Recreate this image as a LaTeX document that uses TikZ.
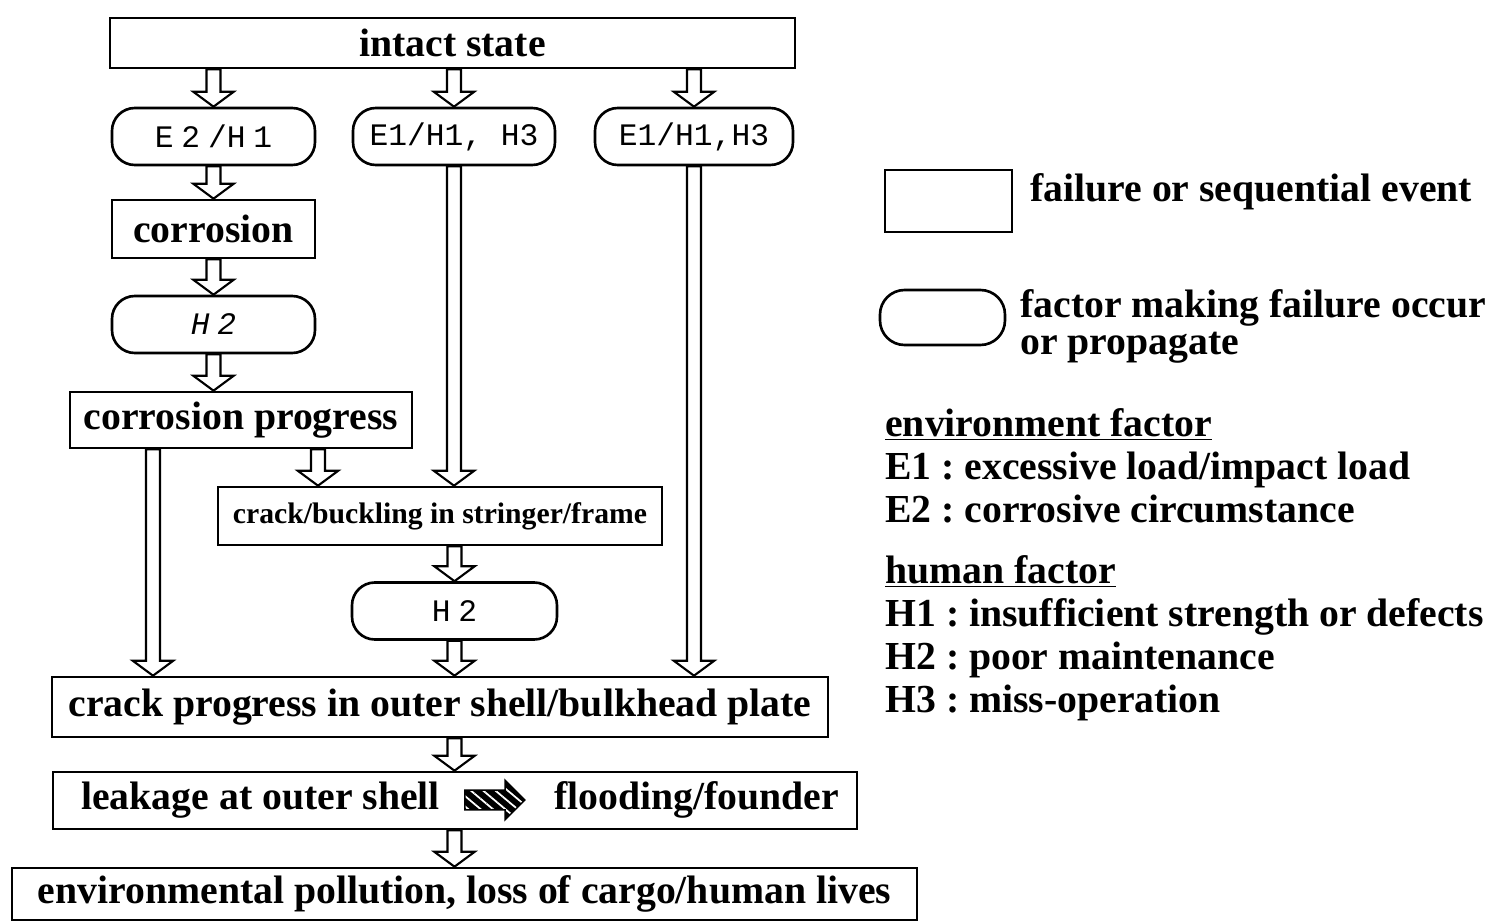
\documentclass[tikz,border=0pt]{standalone}
\usepackage{fontspec}
\setmainfont{Liberation Serif}
\newfontfamily\factorfont{Liberation Mono}
\usepackage{tikz}
\usetikzlibrary{calc,positioning,shapes.arrows,patterns.meta}
\frenchspacing

\tikzset{
  event/.style={draw, line width=1.5pt, fill=white, inner sep=0pt, font=\bfseries\fontsize{22.6}{26}\selectfont},
  factor/.style={draw, line width=1.5pt, fill=white, rounded corners=13pt, inner sep=0pt, minimum height=1.14cm, font=\factorfont\fontsize{17.8}{20}\selectfont},
  legtext/.style={align=left, inner sep=0pt, font=\bfseries\fontsize{22.6}{24.5}\selectfont},
  flow/.style={draw, line width=1.2pt, fill=white, to path={
    let \p1=(\tikztostart), \p2=(\tikztotarget) in
    ({\x1-4pt},\y1) -- ({\x1-4pt},{\y2+8.5pt}) -- ({\x1-11.5pt},{\y2+8.5pt}) -- (\x1,\y2)
    -- ({\x1+11.5pt},{\y2+8.5pt}) -- ({\x1+4pt},{\y2+8.5pt}) -- ({\x1+4pt},\y1) -- cycle}}
}

\begin{document}
\begin{tikzpicture}
\useasboundingbox (0,0) rectangle (29.84,-18.44);

% failure path
\node[event, minimum width=13.7cm, minimum height=1.0cm] (intact) at (9.05,-0.86) {intact state};
\node[factor, minimum width=4.06cm] (eh1) at (4.27,-2.73) {E\hspace{0.25em}2\hspace{0.25em}/H\hspace{0.25em}1};
\node[factor, minimum width=4.04cm] (ehm) at (9.08,-2.73) {E1/H1, H3};
\node[factor, minimum width=3.96cm] (ehr) at (13.88,-2.73) {E1/H1,H3};
\node[event, minimum width=4.06cm, minimum height=1.16cm] (corr) at (4.27,-4.58) {corrosion};
\node[factor, minimum width=4.06cm] (h2a) at (4.27,-6.49) {\itshape H\hspace{0.25em}2};
\node[event, minimum width=6.84cm, minimum height=1.12cm] (prog) at (4.82,-8.40) {corrosion progress};
\node[event, minimum width=8.88cm, minimum height=1.16cm, font=\bfseries\fontsize{16.9}{19}\selectfont] (buck) at (8.80,-10.32) {crack/buckling in stringer/frame};
\node[factor, minimum width=4.10cm] (h2b) at (9.09,-12.22) {H\hspace{0.25em}2};
\node[event, minimum width=15.52cm, minimum height=1.2cm] (crackp) at (8.80,-14.14) {crack progress in outer shell/bulkhead plate};
\node[event, minimum width=16.08cm, minimum height=1.14cm] (leak) at (9.10,-16.01) {};
\node[event, draw=none, fill=none, anchor=west] (leakl) at (1.60,-16.0) {leakage at outer shell};
\node[single arrow, draw, line width=0.8pt, preaction={fill=black}, pattern={Lines[angle=-40, distance=4.5pt, line width=1pt]}, pattern color=white,
      minimum height=1.2cm, inner xsep=0pt, inner ysep=0.18cm, single arrow head extend=0.2cm] (leakarr) at (9.8,-16.0) {};
\node[event, draw=none, fill=none, anchor=west] (leakr) at (11.06,-16.0) {flooding/founder};
\node[event, minimum width=18.1cm, minimum height=1.04cm] (env) at (9.29,-17.88) {environmental pollution, loss of cargo/human lives};

\coordinate (pl) at ($(prog.south)+(-1.76,0)$);
\coordinate (pr) at ($(prog.south)+(1.54,0)$);

\draw[flow] (intact.south -| eh1.north) to (eh1.north);
\draw[flow] (intact.south -| ehm.north) to (ehm.north);
\draw[flow] (intact.south -| ehr.north) to (ehr.north);
\draw[flow] (eh1.south) to (corr.north);
\draw[flow] (corr.south) to (h2a.north);
\draw[flow] (h2a.south -| corr.south) to (prog.north -| corr.south);
\draw[flow] (pl) to (pl |- crackp.north);
\draw[flow] (pr) to (pr |- buck.north);
\draw[flow] (ehm.south) to (ehm.south |- buck.north);
\draw[flow] (buck.south -| h2b.north) to (h2b.north);
\draw[flow] (h2b.south) to (h2b.south |- crackp.north);
\draw[flow] (ehr.south) to (ehr.south |- crackp.north);
\draw[flow] (crackp.south -| h2b.south) to (leak.north -| h2b.south);
\draw[flow] (leak.south -| h2b.south) to (env.north -| h2b.south);

% legend
\node[draw, line width=1.5pt, minimum width=2.54cm, minimum height=1.24cm] (legevent) at (18.97,-4.02) {};
\node[legtext, anchor=west] (legeventt) at (20.6,-3.84) {failure or sequential event};
\node[draw, line width=1.5pt, rounded corners=14pt, minimum width=2.5cm, minimum height=1.1cm] (legfactor) at (18.85,-6.35) {};
\node[legtext, anchor=north west, font=\bfseries\fontsize{22.6}{21}\selectfont] (legfactort) at (20.4,-5.78) {factor making failure occur\\or propagate};
\node[legtext, anchor=north west] (envf) at (17.7,-8.16) {\underline{environment factor}\\E1 : excessive load/impact load\\E2 : corrosive circumstance};
\node[legtext, anchor=north west] (humf) at (17.7,-11.1) {\underline{human factor}\\H1 : insufficient strength or defects\\H2 : poor maintenance\\H3 : miss-operation};
\end{tikzpicture}
\end{document}
